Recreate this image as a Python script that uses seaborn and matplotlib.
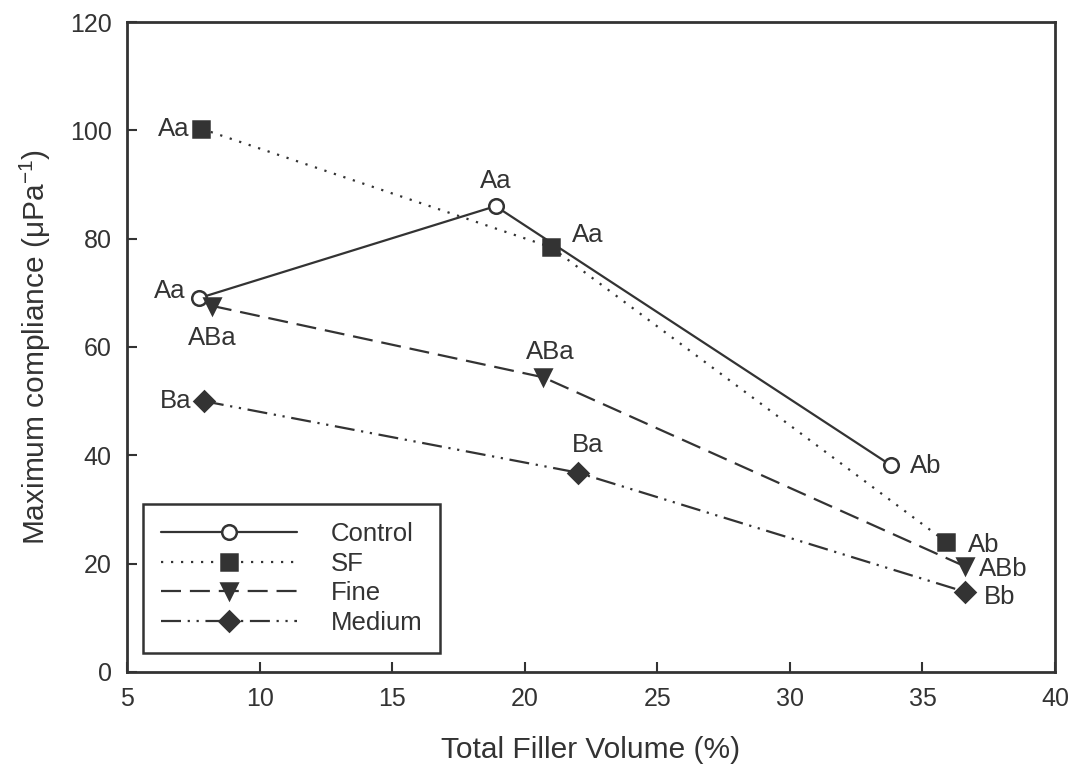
import matplotlib
matplotlib.use("Agg")
import matplotlib.pyplot as plt
import seaborn as sns

# data
control_x = [7.7, 18.9, 33.8]
control_y = [69.0, 86.0, 38.2]
control_lab = ["Aa", "Aa", "Ab"]

sf_x = [7.8, 21.0, 35.9]
sf_y = [100.3, 78.4, 24.0]
sf_lab = ["Aa", "Aa", "Ab"]

fine_x = [8.2, 20.7, 36.6]
fine_y = [67.6, 54.4, 19.5]
fine_lab = ["ABa", "ABa", "ABb"]

medium_x = [7.9, 22.0, 36.6]
medium_y = [50.0, 36.8, 14.8]
medium_lab = ["Ba", "Ba", "Bb"]

sns.set_style("ticks")
plt.rcParams["font.family"] = ["Liberation Sans", "DejaVu Sans"]
ink = "#333333"
plt.rcParams["text.color"] = ink
plt.rcParams["axes.labelcolor"] = ink
plt.rcParams["xtick.color"] = ink
plt.rcParams["ytick.color"] = ink

fig = plt.figure(figsize=(10.7, 7.67), dpi=100)
ax = fig.add_axes([0.1187, 0.1239, 0.8673, 0.8474])

series = [
    ("Control", control_x, control_y, control_lab,
     dict(linestyle="-", marker="o", markerfacecolor="white", markersize=10.5)),
    ("SF", sf_x, sf_y, sf_lab,
     dict(linestyle=(0, (1, 3.5)), marker="s", markerfacecolor=ink, markersize=11)),
    ("Fine", fine_x, fine_y, fine_lab,
     dict(linestyle=(0, (9, 4)), marker="v", markerfacecolor=ink, markersize=12)),
    ("Medium", medium_x, medium_y, medium_lab,
     dict(linestyle=(0, (9, 3, 1, 3, 1, 3)), marker="D", markerfacecolor=ink, markersize=10.5)),
]

for name, xs, ys, labs, st in series:
    sns.lineplot(x=xs, y=ys, ax=ax, color=ink, sort=False, label=name,
                 linewidth=1.6, markeredgecolor=ink, markeredgewidth=1.8, **st)

# letter labels: offset (points) for each point
offsets = {
    "Control": [(-21, 5), (0, 18), (25, -1)],
    "SF": [(-20, 0), (26, 9), (27, -2)],
    "Fine": [(0, -23), (5, 18), (28, -2)],
    "Medium": [(-20, 0), (7, 20), (25, -4)],
}
for name, xs, ys, labs, st in series:
    for xv, yv, lab, off in zip(xs, ys, labs, offsets[name]):
        ax.annotate(lab, (xv, yv), xytext=off, textcoords="offset points",
                    ha="center", va="center", fontsize=18.5, color=ink)

ax.set_xlim(5, 40)
ax.set_ylim(0, 120)
ax.set_xticks(range(5, 41, 5))
ax.set_yticks(range(0, 121, 20))
ax.tick_params(direction="in", length=7, width=1.5, labelsize=18, pad=11)
for sp in ax.spines.values():
    sp.set_linewidth(2)
    sp.set_color(ink)

ax.set_xlabel("Total Filler Volume (%)", fontsize=21.5, labelpad=18)
ax.set_ylabel(r"Maximum compliance ($\mathregular{\mu Pa^{-1}}$)", fontsize=21.5, labelpad=12)

leg = ax.legend(loc="lower left", bbox_to_anchor=(0.0172, 0.029), borderaxespad=0,
                fontsize=18.5, handlelength=5.3, handletextpad=1.3, labelspacing=0.22,
                borderpad=0.7, fancybox=False, edgecolor=ink, framealpha=1)
leg.get_frame().set_linewidth(1.8)

fig.savefig("out.png", dpi=100)
